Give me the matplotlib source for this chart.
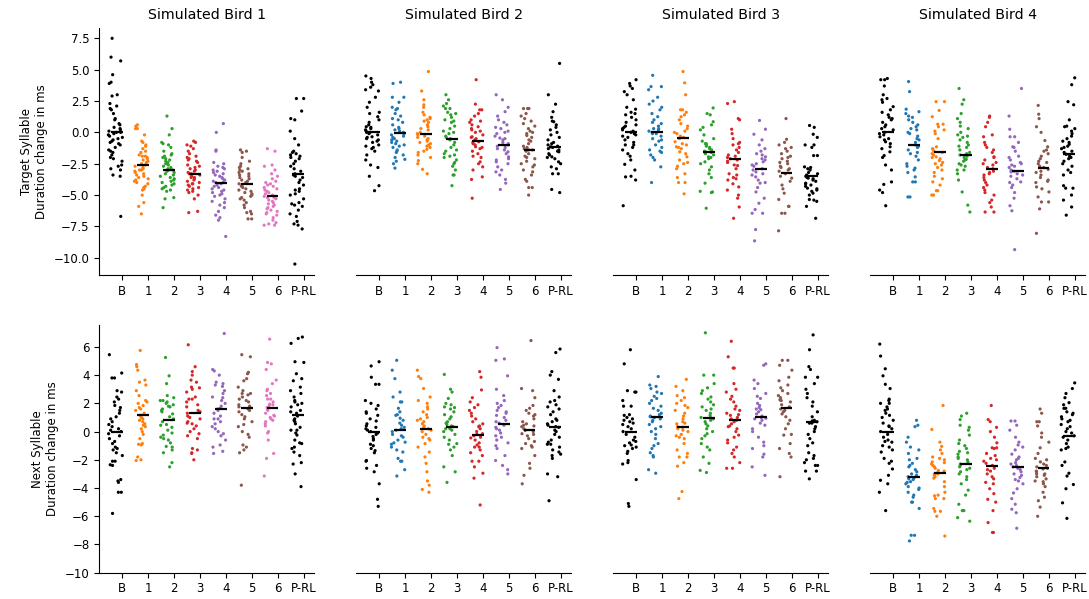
import numpy as np
import pandas as pd
import seaborn as sns
import matplotlib.pyplot as plt

cats = ['B', '1', '2', '3', '4', '5', '6', 'P-RL']
birds = ['Simulated Bird 1', 'Simulated Bird 2', 'Simulated Bird 3', 'Simulated Bird 4']

# target syllable duration change (ms), one list per category B,1..6,P-RL
target_bird1 = [
    [7.5, 6.0, 5.7, 4.6, 4.0, 3.9, 3.0, 2.9, 2.3, 2.1, 1.9, 1.8, 1.5, 1.1, 1.0, 0.7, 0.6, 0.4, 0.3, 0.2, 0.1, 0.0, 0.0, -0.1, -0.2, -0.3, -0.4, -0.5, -0.6, -0.7, -0.8, -0.9, -1.0, -1.2, -1.4, -1.5, -1.6, -1.8, -2.0, -2.1, -2.3, -2.6, -2.7, -2.9, -3.0, -3.4, -3.5, -6.7],
    [0.6, 0.5, 0.3, 0.3, -0.2, -0.7, -0.8, -1.0, -1.1, -1.3, -1.5, -1.6, -1.8, -1.9, -1.9, -2.0, -2.1, -2.2, -2.3, -2.4, -2.5, -2.6, -2.7, -2.8, -2.9, -3.0, -3.0, -3.1, -3.2, -3.3, -3.4, -3.5, -3.6, -3.7, -3.8, -3.9, -4.0, -4.1, -4.3, -4.4, -4.5, -4.6, -5.0, -5.6, -5.9, -6.5],
    [1.3, 0.3, -0.2, -0.8, -0.9, -1.2, -1.5, -1.7, -1.8, -1.9, -2.0, -2.1, -2.3, -2.4, -2.5, -2.6, -2.7, -2.8, -2.9, -3.0, -3.0, -3.1, -3.2, -3.3, -3.4, -3.5, -3.6, -3.7, -3.8, -3.9, -4.0, -4.1, -4.2, -4.3, -4.4, -4.5, -4.6, -4.7, -5.3, -5.2, -6.0, -1.0, -2.2],
    [-0.7, -0.8, -1.0, -1.1, -1.3, -1.5, -1.7, -1.9, -2.0, -2.1, -2.3, -2.4, -2.6, -2.7, -2.8, -2.9, -3.0, -3.1, -3.2, -3.3, -3.4, -3.5, -3.6, -3.7, -3.8, -3.9, -4.0, -4.1, -4.2, -4.3, -4.4, -4.5, -4.6, -4.7, -4.8, -5.0, -5.3, -6.3, -6.4, -2.2, -3.3, -3.6, -4.1],
    [0.7, 0.0, -1.4, -1.5, -2.4, -2.5, -2.7, -2.8, -2.9, -3.0, -3.2, -3.3, -3.4, -3.5, -3.6, -3.7, -3.8, -3.9, -4.0, -4.0, -4.1, -4.2, -4.3, -4.4, -4.5, -4.6, -4.8, -4.9, -5.0, -5.1, -5.3, -5.5, -5.6, -5.8, -6.0, -6.3, -6.6, -6.8, -7.0, -8.3, -3.1, -4.7],
    [-1.4, -1.5, -1.6, -2.0, -2.3, -2.5, -2.7, -2.8, -2.9, -3.0, -3.2, -3.3, -3.4, -3.5, -3.6, -3.7, -3.8, -3.9, -4.0, -4.1, -4.2, -4.3, -4.4, -4.5, -4.6, -4.7, -4.8, -5.0, -5.1, -5.2, -5.3, -5.4, -5.6, -5.8, -6.0, -6.3, -6.4, -6.5, -6.9, -6.9, -3.1, -4.9],
    [-1.3, -1.5, -2.6, -2.7, -3.0, -3.3, -3.5, -3.7, -3.9, -4.0, -4.1, -4.3, -4.4, -4.5, -4.6, -4.7, -4.8, -4.9, -5.0, -5.1, -5.2, -5.3, -5.4, -5.5, -5.6, -5.7, -5.8, -5.9, -6.0, -6.1, -6.2, -6.3, -6.4, -6.5, -6.6, -6.8, -7.0, -7.2, -7.3, -7.4, -7.4, -5.2, -4.2],
    [2.7, 2.7, 1.7, 1.1, 1.0, 0.1, -0.5, -1.0, -1.5, -1.6, -1.7, -1.8, -1.9, -2.0, -2.1, -2.3, -2.5, -2.7, -2.9, -3.1, -3.3, -3.4, -3.5, -3.6, -3.8, -4.0, -4.2, -4.5, -4.6, -4.7, -4.9, -5.0, -5.3, -5.6, -5.7, -5.8, -5.9, -6.2, -6.5, -6.7, -7.1, -7.3, -7.4, -7.7, -10.5],
]
target_bird2 = [
    [4.5, 4.3, 4.0, 3.8, 3.6, 3.4, 3.3, 2.8, 2.4, 2.0, 1.6, 1.25, 1.0, 0.8, 0.6, 0.45, 0.3, 0.2, 0.1, 0.0, 0.0, -0.1, -0.2, -0.35, -0.5, -0.6, -0.7, -0.8, -1.0, -1.1, -1.3, -1.5, -1.8, -2.2, -2.6, -2.8, -3.5, -4.25, -4.65, -1.2, 0.4, -0.4, 1.5],
    [3.9, 4.0, 2.8, 2.8, 2.4, 1.9, 1.8, 1.5, 1.3, 1.0, 0.8, 0.6, 0.4, 0.3, 0.1, 0.0, -0.1, -0.2, -0.3, -0.4, -0.6, -0.7, -0.8, -1.0, -1.1, -1.2, -1.4, -1.5, -1.6, -1.8, -2.0, -2.15, -2.3, -2.5, -2.85, 0.2, -0.5, 1.1, 2.0, -0.9],
    [4.85, 3.3, 2.6, 2.2, 2.0, 1.6, 1.4, 1.1, 1.0, 0.8, 0.6, 0.45, 0.3, 0.2, 0.0, -0.1, -0.2, -0.3, -0.4, -0.5, -0.6, -0.7, -0.8, -1.0, -1.1, -1.2, -1.35, -1.5, -1.8, -2.0, -2.25, -2.5, -2.95, -3.3, 0.9, -0.9, 1.2, -1.6],
    [3.0, 2.6, 2.3, 2.1, 1.9, 1.9, 1.6, 1.4, 1.2, 1.0, 0.8, 0.5, 0.3, 0.1, -0.1, -0.3, -0.5, -0.6, -0.8, -1.0, -1.2, -1.4, -1.7, -1.8, -1.9, -2.0, -2.2, -2.5, -2.7, -3.0, -3.4, -3.4, -4.25, 0.0, -0.4, -1.5, 0.9, -2.4, 1.5],
    [4.2, 2.25, 1.8, 1.8, 1.5, 1.3, 1.0, 0.8, 0.6, 0.45, 0.3, 0.1, 0.0, -0.2, -0.35, -0.5, -0.6, -0.75, -0.9, -1.0, -1.15, -1.3, -1.5, -1.7, -1.9, -2.0, -2.35, -2.5, -2.75, -3.0, -3.55, -3.75, -5.25, -0.4, -0.8, 0.2, -1.2, 0.9],
    [3.0, 2.6, 2.0, 1.65, 1.3, 1.0, 0.8, 0.6, 0.4, 0.3, 0.1, -0.1, -0.3, -0.45, -0.6, -0.8, -0.9, -1.0, -1.1, -1.3, -1.55, -1.7, -1.95, -2.1, -2.35, -2.5, -2.75, -3.0, -3.15, -3.4, -3.75, -4.05, -4.55, -0.5, -1.2, 0.0, -2.2, -1.4],
    [1.9, 1.9, 1.9, 1.5, 1.3, 1.1, 0.9, 0.7, 0.5, 0.3, 0.1, -0.1, -0.25, -0.4, -0.6, -0.9, -1.1, -1.3, -1.4, -1.5, -1.7, -1.9, -2.1, -2.3, -2.5, -2.6, -2.75, -3.0, -3.15, -3.4, -3.75, -3.9, -4.4, -4.4, -5.0, -1.4, -2.0, -1.2, 0.0, -0.7],
    [5.5, 3.0, 2.25, 1.65, 1.2, 0.85, 0.6, 0.4, 0.2, 0.0, -0.2, -0.4, -0.6, -0.8, -1.0, -1.15, -1.3, -1.4, -1.55, -1.7, -1.95, -2.1, -2.35, -2.5, -2.75, -2.9, -3.3, -3.3, -4.55, -4.8, -1.1, -1.5, -0.9, -2.0, 0.9, -1.2, -1.8],
]
target_bird3 = [
    [4.2, 3.9, 3.7, 3.5, 3.25, 3.0, 2.6, 2.0, 1.85, 1.6, 1.4, 1.2, 1.0, 0.8, 0.6, 0.5, 0.3, 0.2, 0.1, 0.0, -0.1, -0.2, -0.4, -0.6, -0.8, -1.0, -1.2, -1.4, -1.7, -1.9, -2.2, -2.55, -3.0, -3.5, -3.55, -3.8, -5.85, 0.4, -0.3, 1.5, -1.0],
    [4.55, 3.65, 3.65, 3.4, 2.8, 2.5, 2.25, 2.0, 1.8, 1.5, 1.25, 1.0, 0.7, 0.5, 0.3, 0.2, 0.1, 0.0, -0.1, -0.3, -0.5, -0.7, -1.0, -1.2, -1.4, -1.6, -1.8, -2.0, -2.2, -2.75, -4.0, 0.3, -0.1, -0.6, -1.5, 0.8],
    [4.85, 3.95, 3.0, 1.8, 1.8, 1.6, 1.4, 1.25, 1.0, 0.7, 0.5, 0.3, 0.1, -0.1, -0.3, -0.5, -0.75, -0.9, -1.0, -1.15, -1.3, -1.55, -1.7, -1.95, -2.2, -2.5, -2.7, -2.9, -3.3, -3.6, -4.0, -4.0, -4.9, -0.4, -1.2, 0.0, -2.4],
    [1.95, 1.5, 1.4, 0.85, 0.6, 0.4, 0.2, -0.2, -0.5, -0.9, -0.9, -1.0, -1.2, -1.3, -1.4, -1.55, -1.7, -1.8, -1.95, -2.1, -2.35, -2.5, -2.75, -3.0, -3.3, -3.6, -4.05, -4.7, -4.75, -4.8, -6.05, -1.1, -1.6, -2.0, -0.7, -1.5],
    [2.45, 2.3, 1.1, 1.0, 0.25, -0.1, -0.5, -0.8, -1.0, -1.2, -1.4, -1.6, -1.8, -2.0, -2.2, -2.4, -2.65, -2.9, -3.3, -3.4, -3.6, -3.8, -4.1, -4.35, -4.6, -5.0, -5.25, -5.95, -6.85, -2.1, -2.3, -1.9, -3.7, -2.6, -0.9],
    [0.95, 0.25, -0.15, -0.6, -1.0, -1.3, -1.5, -1.7, -1.95, -2.1, -2.35, -2.5, -2.7, -2.9, -3.15, -3.4, -3.55, -3.8, -4.05, -4.4, -4.75, -5.25, -5.65, -6.15, -6.45, -6.45, -7.75, -8.65, -2.2, -2.6, -3.0, -1.8, -3.3, -4.0],
    [1.1, -0.55, -0.8, -1.0, -1.3, -1.5, -1.7, -1.9, -2.1, -2.3, -2.5, -2.7, -2.9, -3.1, -3.3, -3.5, -3.65, -3.9, -4.2, -4.5, -4.85, -5.35, -5.9, -5.9, -6.45, -6.45, -7.85, -2.0, -2.8, -3.0, -1.2, -2.4],
    [0.55, 0.4, -0.15, -0.4, -1.0, -1.0, -1.2, -1.85, -1.85, -2.75, -2.9, -3.3, -3.4, -3.5, -3.65, -3.8, -3.9, -4.05, -4.2, -4.3, -4.45, -4.6, -4.7, -4.85, -5.0, -5.35, -5.5, -5.9, -6.85, -3.2, -3.6, -3.7, -4.1, -2.8, -3.0, -4.5, -5.4],
]
target_bird4 = [
    [4.3, 4.2, 4.2, 3.7, 3.0, 2.6, 2.4, 2.05, 1.8, 1.6, 1.4, 1.2, 1.0, 0.8, 0.6, 0.45, 0.2, 0.0, -0.2, -0.35, -0.5, -0.75, -0.9, -1.15, -1.3, -1.55, -1.85, -2.0, -2.6, -3.0, -3.95, -4.15, -4.6, -4.8, -5.85, 0.3, -0.1, 1.1, -0.6, 2.7],
    [4.05, 3.25, 1.85, 1.65, 1.5, 1.3, 1.0, 0.8, 0.6, 0.45, 0.2, 0.0, -0.1, -0.3, -0.6, -0.8, -1.0, -1.1, -1.2, -1.4, -1.6, -1.9, -2.2, -2.5, -2.85, -3.0, -3.2, -3.55, -3.95, -3.95, -5.15, -5.15, -0.5, -1.7, 0.3, -2.7, 1.2],
    [2.45, 2.45, 1.75, 1.25, 0.65, 0.65, 0.45, 0.2, -0.1, -0.5, -1.15, -1.35, -1.5, -1.7, -1.8, -1.95, -2.1, -2.25, -2.4, -2.6, -2.8, -3.0, -3.2, -3.5, -3.7, -3.95, -4.2, -4.65, -4.65, -5.0, -5.0, -1.6, -2.0, 0.1, -1.3, -2.5],
    [3.5, 2.6, 2.25, 1.5, 1.1, 0.8, 0.5, 0.3, 0.0, -0.2, -0.4, -0.6, -0.8, -1.0, -1.2, -1.4, -1.6, -1.8, -2.0, -2.15, -2.3, -2.5, -2.7, -3.0, -3.0, -3.3, -3.8, -4.75, -5.8, -6.35, -1.7, -1.1, -2.2, -0.3, -2.6, -1.9],
    [1.3, 1.2, 0.8, 0.45, -0.2, -0.35, -0.8, -1.2, -1.4, -1.6, -1.95, -2.0, -2.2, -2.4, -2.6, -2.8, -3.1, -3.2, -3.4, -3.6, -3.8, -4.0, -4.2, -4.4, -4.6, -5.0, -5.4, -5.6, -5.95, -6.35, -6.35, -2.9, -2.5, -3.3, -1.0, -4.8],
    [3.5, 1.3, 0.25, -0.35, -0.35, -0.8, -1.15, -1.5, -1.9, -2.2, -2.4, -2.5, -2.6, -2.8, -3.0, -3.15, -3.3, -3.5, -3.7, -3.95, -4.2, -4.4, -4.8, -5.25, -5.85, -6.25, -9.35, -3.1, -2.7, -3.4, -2.0, -4.0, -1.2],
    [2.15, 1.45, 1.1, 0.45, 0.0, -0.65, -1.15, -1.4, -1.7, -1.9, -2.1, -2.3, -2.5, -2.7, -2.95, -3.1, -3.4, -3.6, -3.8, -4.0, -4.35, -4.5, -4.75, -5.15, -5.55, -5.55, -6.1, -8.05, -2.8, -3.2, -2.4, -1.5, -3.9],
    [4.35, 3.8, 2.45, 2.2, 1.0, 0.45, 0.3, 0.1, -0.1, -0.3, -0.5, -0.7, -0.95, -1.1, -1.3, -1.5, -1.75, -1.9, -2.1, -2.3, -2.5, -2.7, -3.0, -3.2, -3.4, -4.25, -4.45, -4.45, -5.0, -5.4, -5.95, -6.6, -1.2, -0.8, -2.0, -1.6, 0.5],
]

# next syllable duration change (ms)
next_bird1 = [
    [5.45, 4.15, 3.8, 3.8, 2.9, 2.8, 2.45, 2.3, 2.1, 1.85, 1.7, 1.5, 1.3, 1.05, 0.9, 0.7, 0.5, 0.35, 0.2, 0.1, 0.0, -0.15, -0.3, -0.5, -0.7, -0.85, -1.1, -1.2, -1.3, -1.5, -1.7, -2.1, -2.1, -2.35, -2.4, -3.4, -3.5, -3.6, -4.3, -4.3, -5.8],
    [5.75, 4.75, 4.6, 4.35, 3.65, 3.5, 3.3, 2.9, 2.55, 2.2, 2.0, 1.85, 1.7, 1.5, 1.3, 1.15, 1.0, 0.8, 0.7, 0.55, 0.45, 0.35, 0.2, 0.0, -0.2, -0.5, -0.85, -0.9, -0.95, -1.8, -2.05, -2.0, 1.1, 0.9, 2.1, 1.6],
    [5.25, 3.95, 3.4, 2.55, 2.4, 2.2, 2.1, 2.0, 1.9, 1.75, 1.6, 1.4, 1.25, 1.05, 0.9, 0.7, 0.45, 0.3, 0.1, -0.1, -0.25, -0.4, -0.6, -0.8, -1.05, -1.1, -1.3, -1.5, -2.2, -2.5, 1.5, 0.5, 1.8, 2.2, -0.5],
    [6.15, 4.6, 4.25, 4.0, 3.65, 3.5, 3.15, 3.0, 2.8, 2.45, 2.3, 2.1, 1.9, 1.75, 1.5, 1.3, 1.1, 0.9, 0.7, 0.55, 0.4, 0.2, 0.0, -0.15, -0.3, -0.5, -1.2, -1.3, -1.55, -1.5, -2.0, 1.4, 2.3, 0.6, 3.1, 1.0],
    [6.95, 4.4, 4.3, 4.0, 3.5, 3.3, 3.2, 2.9, 2.7, 2.45, 2.2, 2.0, 1.8, 1.65, 1.5, 1.3, 1.1, 0.9, 0.7, 0.55, 0.35, 0.2, 0.0, -0.15, -0.3, -0.6, -0.95, -1.1, -1.4, -1.55, 1.6, 2.4, 0.9, 3.4],
    [5.45, 5.3, 4.2, 4.1, 3.75, 3.6, 3.15, 2.9, 2.7, 2.7, 2.45, 2.3, 2.1, 1.9, 1.75, 1.6, 1.4, 1.2, 1.05, 0.9, 0.7, 0.5, 0.35, 0.0, -0.2, -0.4, -0.95, -1.1, -1.3, -1.5, -3.8, 2.6, 1.8, 2.2, 1.5],
    [6.55, 4.9, 4.8, 4.4, 3.65, 3.4, 3.0, 2.9, 2.7, 2.55, 2.3, 2.1, 1.95, 1.85, 1.7, 1.5, 1.3, 1.15, 1.0, 0.9, 0.7, 0.55, 0.4, 0.0, -0.1, -0.6, -1.55, -1.9, -3.15, 1.6, 1.9, 1.1, 2.3, 0.8],
    [6.7, 6.6, 6.25, 4.95, 4.9, 4.1, 3.75, 3.6, 3.15, 2.9, 2.7, 2.45, 2.2, 2.1, 1.9, 1.75, 1.5, 1.3, 1.1, 0.9, 0.7, 0.55, 0.3, 0.1, 0.1, -0.1, -0.25, -0.6, -0.8, -0.85, -1.1, -1.2, -1.45, -1.7, -2.2, -2.3, -3.0, -3.9, 1.4, 2.0, 0.8],
]
next_bird2 = [
    [4.95, 4.65, 3.85, 3.35, 3.35, 2.2, 2.0, 1.85, 1.4, 1.3, 1.15, 0.9, 0.75, 0.55, 0.4, 0.2, 0.1, 0.0, -0.2, -0.35, -0.5, -0.6, -0.9, -1.0, -1.2, -1.35, -1.5, -2.05, -2.1, -2.4, -2.6, -2.85, -3.7, -4.8, -5.3, 0.3, -0.1, 1.6],
    [5.05, 4.35, 3.75, 2.8, 2.45, 2.1, 2.1, 1.65, 1.4, 1.15, 0.95, 0.8, 0.6, 0.45, 0.3, 0.1, 0.0, -0.2, -0.4, -0.6, -0.75, -0.9, -1.1, -1.3, -1.45, -1.9, -2.1, -2.1, -2.7, -3.15, 0.2, -0.3, 1.2, -0.8],
    [4.35, 3.9, 3.75, 3.05, 2.45, 2.2, 2.0, 1.75, 1.6, 1.4, 1.2, 0.9, 0.7, 0.55, 0.4, 0.2, 0.1, 0.0, -0.2, -0.4, -0.6, -0.85, -1.1, -1.45, -1.8, -2.25, -2.85, -3.5, -3.8, -4.3, -4.1, 0.3, 0.8, -0.5, 1.0],
    [4.05, 3.0, 2.8, 2.35, 2.0, 1.9, 1.75, 1.6, 1.4, 1.2, 1.05, 0.9, 0.7, 0.5, 0.35, 0.2, 0.1, 0.0, -0.2, -0.4, -0.6, -0.85, -1.1, -1.3, -1.7, -2.5, -2.85, -3.6, 0.4, 0.6, 1.7, -0.9, 0.2],
    [4.25, 3.85, 2.95, 2.4, 2.1, 1.9, 1.7, 1.5, 1.3, 1.1, 0.9, 0.7, 0.55, 0.35, 0.2, 0.0, -0.15, -0.3, -0.45, -0.6, -0.8, -0.95, -1.1, -1.3, -1.5, -1.7, -2.1, -2.1, -2.5, -2.95, -3.3, -5.2, -0.4, -0.2, 0.4, -1.1],
    [5.95, 5.15, 5.05, 3.95, 3.0, 2.55, 2.2, 2.0, 1.85, 1.7, 1.5, 1.3, 1.15, 1.0, 0.8, 0.6, 0.45, 0.3, 0.1, -0.1, -0.4, -0.6, -0.8, -1.0, -1.2, -1.7, -2.05, -2.4, -2.7, -3.0, 0.7, 1.4, 0.2, -0.3],
    [6.45, 3.05, 2.9, 2.4, 1.85, 1.65, 1.5, 1.3, 1.1, 0.9, 0.7, 0.55, 0.45, 0.35, 0.2, 0.1, 0.0, -0.15, -0.3, -0.5, -0.7, -0.85, -1.0, -1.2, -1.7, -2.25, -2.6, -3.1, -3.7, 0.4, 0.1, -0.2, 1.2, -1.1],
    [5.85, 5.6, 4.25, 4.0, 3.7, 2.9, 2.45, 2.2, 2.1, 1.9, 1.75, 1.4, 1.2, 0.9, 0.7, 0.55, 0.45, 0.35, 0.3, 0.1, 0.0, -0.2, -0.4, -0.6, -0.75, -0.9, -1.1, -1.3, -1.45, -1.6, -1.7, -1.9, -3.0, -3.2, -4.9, -0.9, 0.8, 1.6],
]
next_bird3 = [
    [5.8, 4.8, 2.9, 2.8, 2.8, 2.2, 1.8, 1.8, 1.2, 1.15, 1.0, 0.9, 0.8, 0.7, 0.5, 0.35, 0.2, 0.0, -0.2, -0.4, -0.6, -0.7, -0.95, -1.0, -1.2, -1.4, -1.55, -2.05, -2.2, -2.3, -3.4, -5.1, -5.3, -0.8, 0.6, -1.1],
    [3.9, 3.3, 3.2, 3.05, 2.8, 2.7, 2.35, 2.2, 2.0, 1.8, 1.65, 1.5, 1.3, 1.2, 1.05, 0.9, 0.7, 0.5, 0.35, 0.2, 0.0, -0.2, -0.5, -0.85, -1.0, -1.2, -1.5, -1.7, -1.8, -2.7, -2.95, 1.1, 1.0, 0.8, 2.5],
    [3.7, 3.2, 2.9, 2.55, 2.4, 2.2, 2.0, 1.85, 1.7, 1.5, 1.3, 1.1, 0.9, 0.7, 0.55, 0.35, 0.2, 0.0, -0.2, -0.4, -0.5, -0.85, -1.3, -1.55, -1.8, -1.8, -2.2, -2.45, -4.25, -4.75, 0.3, 0.1, 0.6, -0.3],
    [7.0, 4.0, 4.0, 3.4, 3.1, 2.9, 2.7, 2.45, 2.3, 2.1, 1.9, 1.75, 1.5, 1.3, 1.15, 1.0, 0.9, 0.7, 0.55, 0.4, 0.2, 0.0, -0.15, -0.3, -0.5, -0.85, -1.1, -1.3, -1.8, -2.25, -2.75, -2.9, 1.0, 0.8, 1.6],
    [6.4, 5.3, 4.5, 4.5, 3.4, 3.0, 2.8, 2.5, 2.3, 2.1, 1.8, 1.6, 1.5, 1.3, 1.15, 1.0, 0.8, 0.7, 0.55, 0.35, 0.2, 0.0, -0.25, -0.4, -0.6, -0.8, -1.1, -1.3, -1.55, -1.8, -2.2, -2.6, -2.6, 0.9, 0.4, 1.2],
    [4.8, 4.7, 3.65, 3.4, 3.05, 2.7, 2.5, 2.35, 2.0, 1.85, 1.7, 1.55, 1.4, 1.25, 1.1, 0.95, 0.8, 0.6, 0.45, 0.2, 0.0, -0.4, -0.75, -1.0, -1.2, -1.6, -1.8, -2.5, -3.1, 1.0, 1.6, 0.9],
    [5.05, 5.05, 4.7, 4.35, 3.85, 3.6, 3.3, 3.1, 2.9, 2.7, 2.55, 2.4, 2.25, 2.1, 1.9, 1.75, 1.6, 1.4, 1.25, 1.05, 0.8, 0.55, 0.2, -0.2, -0.25, -0.85, -1.2, -1.55, -1.8, -3.2, 2.2, 1.5],
    [6.85, 5.8, 4.6, 4.4, 3.85, 3.85, 3.4, 3.0, 2.7, 2.4, 2.1, 1.8, 1.4, 1.05, 0.75, 0.7, 0.6, 0.35, 0.2, 0.0, -0.2, -0.5, -0.8, -1.0, -1.5, -1.7, -1.9, -2.0, -2.2, -2.4, -2.4, -2.8, -2.8, -3.35, 0.6, 0.8],
]
next_bird4 = [
    [6.2, 5.35, 4.45, 3.95, 3.35, 3.05, 2.3, 2.2, 2.0, 2.0, 1.75, 1.6, 1.5, 1.3, 1.15, 1.0, 0.8, 0.6, 0.35, 0.2, 0.0, -0.2, -0.4, -0.6, -0.75, -1.0, -1.1, -1.3, -1.45, -1.9, -2.1, -2.25, -2.65, -3.1, -3.45, -3.7, -4.3, -5.6, 0.4, -0.7],
    [0.8, 0.45, 0.35, -0.4, -0.75, -1.1, -1.3, -1.55, -1.9, -2.0, -2.25, -2.5, -2.7, -2.85, -3.0, -3.1, -3.2, -3.35, -3.4, -3.55, -3.7, -3.9, -4.1, -4.3, -4.5, -4.65, -5.0, -5.0, -5.45, -7.35, -7.35, -7.75, -3.3, -2.4, -4.0, -3.6],
    [1.85, 0.15, -0.75, -1.05, -1.3, -1.55, -1.8, -1.9, -2.0, -2.15, -2.3, -2.5, -2.6, -2.75, -2.9, -3.0, -3.1, -3.2, -3.3, -3.55, -3.9, -4.3, -4.5, -4.55, -4.75, -4.75, -5.45, -5.65, -5.65, -6.0, -7.4, -2.8, -2.4, -3.0, -2.2],
    [1.3, 1.1, 0.85, 0.45, 0.3, 0.1, -0.25, -0.6, -0.85, -1.0, -1.2, -1.5, -1.6, -1.8, -2.0, -2.15, -2.3, -2.5, -2.7, -2.85, -3.0, -3.2, -3.4, -3.7, -4.15, -4.5, -5.15, -5.6, -5.6, -6.1, -6.35, -1.9, -2.6, -2.4, -1.4],
    [1.85, 0.85, 0.7, 0.3, 0.0, -0.4, -0.8, -1.15, -1.15, -1.55, -1.7, -1.9, -2.1, -2.25, -2.4, -2.6, -2.8, -3.0, -3.2, -3.35, -3.7, -4.05, -4.4, -4.8, -5.0, -5.6, -6.45, -7.15, -7.15, -1.2, -2.0, -2.7, -3.6],
    [0.75, 0.75, 0.45, 0.1, -0.4, -0.75, -0.95, -1.1, -1.3, -1.6, -1.9, -2.0, -2.2, -2.4, -2.5, -2.7, -2.85, -3.0, -3.1, -3.25, -3.4, -3.7, -4.05, -4.35, -4.75, -5.15, -5.5, -5.75, -6.85, -2.3, -2.6, -1.8, -3.5],
    [1.6, 1.3, 0.7, 0.7, 0.4, -0.1, -0.4, -0.75, -1.15, -1.55, -1.9, -2.0, -2.15, -2.3, -2.5, -2.65, -2.85, -3.0, -3.1, -3.2, -3.35, -3.5, -3.55, -3.7, -3.9, -4.3, -4.65, -4.9, -5.35, -6.0, -2.6, -2.8, -3.0, -2.4],
    [3.45, 3.05, 2.7, 2.4, 2.05, 1.9, 1.65, 1.65, 1.4, 1.2, 1.05, 0.9, 0.7, 0.5, 0.35, 0.2, 0.0, -0.3, -0.4, -0.6, -0.85, -1.1, -1.2, -1.3, -2.15, -2.4, -2.95, -3.15, -3.75, -4.05, -5.05, -6.15, 1.3, 0.8, -0.1],
]

# group means (black bars)
target_means = [
    [0.0, -2.6, -3.0, -3.35, -4.0, -4.15, -5.1, -3.35],
    [0.0, -0.05, -0.15, -0.5, -0.7, -1.0, -1.4, -1.15],
    [0.0, 0.03, -0.45, -1.55, -2.15, -2.95, -3.2, -3.45],
    [0.0, -1.0, -1.6, -1.8, -2.9, -3.05, -2.85, -1.75],
]
next_means = [
    [0.0, 1.2, 0.85, 1.35, 1.6, 1.65, 1.65, 1.2],
    [0.0, 0.1, 0.2, 0.3, -0.25, 0.55, 0.1, 0.35],
    [0.0, 1.0, 0.3, 0.95, 0.85, 1.0, 1.7, 0.7],
    [0.0, -3.25, -2.95, -2.3, -2.45, -2.5, -2.55, -0.3],
]

tab = plt.rcParams['axes.prop_cycle'].by_key()['color']
palettes = [
    ['k', tab[1], tab[2], tab[3], tab[4], tab[5], tab[6], 'k'],
    ['k', tab[0], tab[1], tab[2], tab[3], tab[4], tab[5], 'k'],
    ['k', tab[0], tab[1], tab[2], tab[3], tab[4], tab[5], 'k'],
    ['k', tab[0], tab[1], tab[2], tab[3], tab[4], tab[5], 'k'],
]

rows = [
    ([target_bird1, target_bird2, target_bird3, target_bird4], target_means,
     'Target Syllable\nDuration change in ms', (-11.4, 8.35), np.arange(-10, 7.6, 2.5)),
    ([next_bird1, next_bird2, next_bird3, next_bird4], next_means,
     'Next Syllable\nDuration change in ms', (-10, 7.55), np.arange(-10, 6.1, 2)),
]

fig, axes = plt.subplots(2, 4, figsize=(10.89, 5.99), dpi=100)
fig.subplots_adjust(left=0.0912, right=0.9963, top=0.9538, bottom=0.0439,
                    wspace=0.197, hspace=0.2007)

pos = np.arange(len(cats))
offset = 0.26  # tick sits at right edge of the jittered cloud

for r, (data_list, means, ylabel, ylim, yticks) in enumerate(rows):
    for b in range(4):
        ax = axes[r, b]
        data = data_list[b]
        df = pd.DataFrame({
            'cat': [c for c, v in zip(cats, data) for _ in v],
            'val': [x for v in data for x in v],
        })
        sns.stripplot(data=df, x='cat', y='val', hue='cat', order=cats,
                      hue_order=cats, palette=palettes[b], jitter=0.27,
                      size=2.3, linewidth=0, legend=False, ax=ax)
        ax.hlines(means[b], pos - 0.17, pos + 0.29, color='k', lw=1.6, zorder=5)

        ax.set_xticks(pos + offset, cats)
        ax.set_xlim(-0.62, 7.66)
        ax.set_ylim(*ylim)
        ax.set_yticks(yticks)
        ax.set_xlabel('')
        ax.set_ylabel('')
        ax.tick_params(labelsize=8.5)
        ax.spines[['top', 'right']].set_visible(False)
        if b == 0:
            ax.set_ylabel(ylabel, fontsize=8.5)
        else:
            ax.spines['left'].set_visible(False)
            ax.tick_params(left=False, labelleft=False)
        if r == 0:
            ax.set_title(birds[b], fontsize=10.2)

plt.savefig('out.png', dpi=100)
